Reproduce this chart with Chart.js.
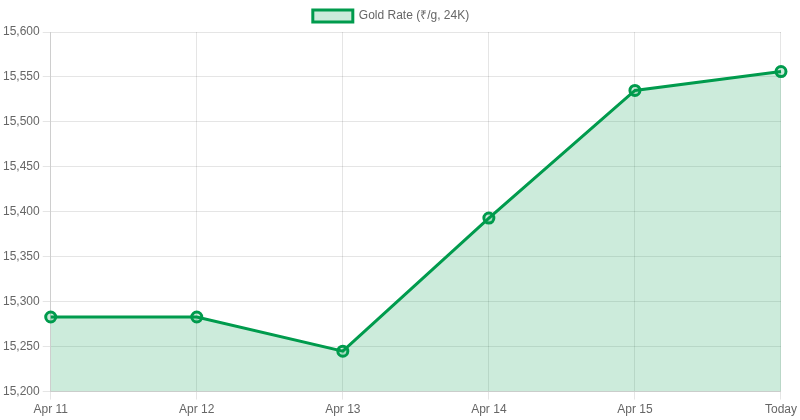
<!DOCTYPE html>
<html><head><meta charset="utf-8">
<script src="https://cdn.jsdelivr.net/npm/chart.js@4"></script>
<style>html,body{margin:0;padding:0;background:#fff}#w{width:800px;height:420px}</style>
</head><body><div id="w"><canvas id="c"></canvas></div>
<script>
const categories = ["Apr 11","Apr 12","Apr 13","Apr 14","Apr 15","Today"];
const goldRates = [15283,15283,15245,15393,15535,15556];
const seriesLabel = "Gold Rate (₹/g, 24K)";
Chart.defaults.font.family = "Arial, 'Liberation Sans', sans-serif";
Chart.defaults.font.size = 12;
Chart.defaults.color = "#666";
new Chart(document.getElementById('c'), {
  type: 'line',
  data: { labels: categories, datasets: [{
    label: seriesLabel, data: goldRates,
    borderColor: '#009b4d', backgroundColor: 'rgba(0,155,77,0.2)',
    borderWidth: 3, fill: true, tension: 0,
    pointRadius: 5, pointBorderWidth: 3, pointBackgroundColor: 'rgba(0,155,77,0.2)', pointBorderColor: '#009b4d'
  }]},
  options: {
    responsive: true, maintainAspectRatio: false, animation: false,
    layout: { padding: { right: 18 } },
    plugins: { legend: { labels: { boxWidth: 40 } } },
    scales: {
      x: { grid: { color: 'rgba(0,0,0,0.1)' } },
      y: { min: 15200, max: 15600, ticks: { stepSize: 50 }, grid: { color: 'rgba(0,0,0,0.1)' } }
    }
  }
});
</script></body></html>
